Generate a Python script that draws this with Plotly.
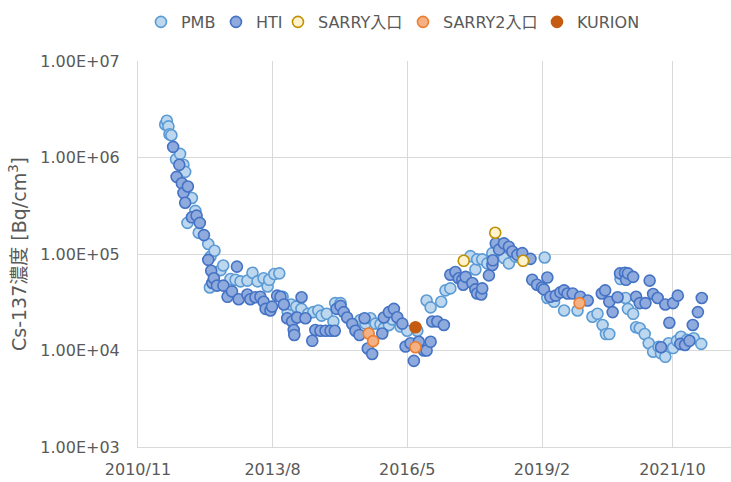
import plotly.graph_objects as go

# PMB outlet samples
pmb_dates = [
    "2011-05-23", "2011-06-04", "2011-06-16", "2011-06-24", "2011-07-08", "2011-08-12",
    "2011-09-11", "2011-10-06", "2011-10-19", "2011-11-05", "2011-12-08", "2012-01-03",
    "2012-01-28", "2012-04-08", "2012-04-20", "2012-04-25", "2012-05-25", "2012-07-09",
    "2012-07-29", "2012-09-21", "2012-10-29", "2012-12-05", "2013-01-25", "2013-03-04",
    "2013-04-11", "2013-05-26", "2013-06-25", "2013-07-07", "2013-08-14", "2013-09-20",
    "2013-10-15", "2013-11-22", "2013-12-18", "2014-01-25", "2014-03-04", "2014-04-23",
    "2014-06-01", "2014-07-08", "2014-08-02", "2014-09-09", "2014-10-29", "2014-11-11",
    "2014-12-21", "2015-05-18", "2015-06-25", "2015-08-01", "2015-09-08", "2015-10-15",
    "2015-11-09", "2015-12-17", "2016-01-10", "2016-03-12", "2016-05-01", "2016-07-16",
    "2016-09-23", "2016-10-23", "2017-01-10", "2017-02-11", "2017-03-19", "2017-08-16",
    "2017-09-22", "2017-10-05", "2017-11-12", "2017-12-20", "2018-01-27", "2018-04-23",
    "2018-05-30", "2018-07-19", "2019-02-21", "2019-03-13", "2019-05-02", "2019-07-16",
    "2019-10-24", "2020-02-12", "2020-03-21", "2020-04-28", "2020-05-23", "2020-06-17",
    "2020-09-09", "2020-10-16", "2020-11-03", "2020-12-12", "2021-01-03", "2021-01-30",
    "2021-03-08", "2021-04-07", "2021-05-10", "2021-06-20", "2021-07-08", "2021-08-09",
    "2021-09-03", "2021-10-06", "2021-11-04", "2021-12-04", "2022-01-18", "2022-03-09",
    "2022-05-04",
]
pmb_values = [
    2.2e6, 2.4e6, 2.1e6, 1.74e6, 1.7e6, 9.6e5,
    1.09e6, 8.4e5, 7.1e5, 2.1e5, 3.8e5, 2.8e5,
    1.66e5, 1.27e5, 4.5e4, 9.4e4, 1.08e5, 6.8e4,
    7.6e4, 5.5e4, 5.4e4, 5.2e4, 5.3e4, 6.4e4,
    5.2e4, 5.6e4, 4.6e4, 5.4e4, 6.2e4, 6.3e4,
    3.6e4, 2.5e4, 3.0e4, 2.85e4, 2.7e4, 2.4e4,
    2.5e4, 2.6e4, 2.3e4, 2.4e4, 2.0e4, 3.1e4,
    3.1e4, 2.07e4, 1.9e4, 2.16e4, 1.9e4, 1.87e4,
    1.7e4, 1.84e4, 2.1e4, 1.77e4, 1.6e4, 1.6e4,
    3.3e4, 2.8e4, 3.2e4, 4.2e4, 4.4e4, 9.5e4,
    6.9e4, 8.8e4, 8.8e4, 8.0e4, 1.02e5, 9.1e4,
    8.0e4, 9.4e4, 9.2e4, 3.5e4, 3.2e4, 2.6e4,
    2.6e4, 2.24e4, 2.4e4, 1.84e4, 1.48e4, 1.48e4,
    5.5e4, 3.5e4, 2.7e4, 2.4e4, 1.74e4, 1.7e4,
    1.48e4, 1.19e4, 9.7e3, 1.09e4, 9.35e3, 8.6e3,
    1.19e4, 1.06e4, 1.26e4, 1.39e4, 1.29e4, 1.34e4,
    1.17e4,
]

# HTI building samples
hti_dates = [
    "2011-07-21", "2011-08-16", "2011-09-05", "2011-09-24", "2011-10-06", "2011-10-19",
    "2011-11-08", "2011-12-08", "2012-01-12", "2012-02-05", "2012-03-07", "2012-04-08",
    "2012-04-30", "2012-05-08", "2012-05-20", "2012-06-12", "2012-07-30", "2012-08-30",
    "2012-10-02", "2012-11-08", "2012-11-21", "2013-01-25", "2013-02-16", "2013-03-26",
    "2013-05-02", "2013-05-26", "2013-06-10", "2013-07-16", "2013-07-28", "2013-09-04",
    "2013-09-29", "2013-10-24", "2013-11-18", "2013-12-25", "2014-01-06", "2014-01-10",
    "2014-01-31", "2014-03-05", "2014-04-03", "2014-05-24", "2014-06-16", "2014-07-24",
    "2014-08-31", "2014-10-07", "2014-11-08", "2014-11-21", "2014-12-21", "2015-01-14",
    "2015-02-08", "2015-03-18", "2015-04-11", "2015-05-11", "2015-06-18", "2015-07-12",
    "2015-08-14", "2015-10-28", "2015-11-09", "2015-12-17", "2016-01-23", "2016-02-17",
    "2016-03-26", "2016-04-19", "2016-05-26", "2016-06-20", "2016-07-27", "2016-09-03",
    "2016-09-23", "2016-10-23", "2016-11-04", "2016-12-12", "2017-01-30", "2017-03-19",
    "2017-04-26", "2017-05-21", "2017-06-16", "2017-06-23", "2017-07-11", "2017-08-30",
    "2017-09-22", "2017-10-05", "2017-11-05", "2017-11-12", "2018-01-01", "2018-01-27",
    "2018-01-30", "2018-02-21", "2018-03-18", "2018-04-23", "2018-05-30", "2018-06-25",
    "2018-08-01", "2018-09-07", "2018-11-07", "2018-11-20", "2018-12-26", "2019-02-01",
    "2019-02-15", "2019-03-13", "2019-04-04", "2019-05-15", "2019-06-18", "2019-07-16",
    "2019-08-11", "2019-09-18", "2019-11-13", "2020-01-08", "2020-04-22", "2020-05-17",
    "2020-06-17", "2020-07-12", "2020-08-18", "2020-09-05", "2020-10-12", "2020-10-20",
    "2020-11-03", "2020-12-12", "2021-01-03", "2021-01-30", "2021-03-14", "2021-04-14",
    "2021-05-10", "2021-06-13", "2021-07-08", "2021-08-09", "2021-09-08", "2021-10-06",
    "2021-11-10", "2021-11-29", "2022-01-03", "2022-02-05", "2022-03-02", "2022-04-09",
    "2022-05-08",
]
hti_values = [
    1.29e6, 6.3e5, 8.4e5, 5.4e5, 4.3e5, 3.4e5,
    5.0e5, 2.4e5, 2.5e5, 2.1e5, 1.57e5, 8.7e4,
    6.7e4, 5.0e4, 5.6e4, 4.7e4, 4.7e4, 3.6e4,
    4.1e4, 7.4e4, 3.4e4, 3.8e4, 3.4e4, 3.56e4,
    3.6e4, 3.2e4, 2.7e4, 2.6e4, 2.85e4, 3.7e4,
    3.6e4, 3.0e4, 2.16e4, 2.0e4, 1.63e4, 1.45e4,
    2.2e4, 3.56e4, 2.16e4, 1.26e4, 1.63e4, 1.6e4,
    1.6e4, 1.6e4, 1.6e4, 2.7e4, 2.9e4, 2.5e4,
    2.2e4, 1.88e4, 1.6e4, 1.45e4, 2.16e4, 1.05e4,
    9.2e3, 1.5e4, 2.2e4, 2.5e4, 2.7e4, 2.21e4,
    1.9e4, 1.1e4, 1.19e4, 7.8e3, 1.23e4, 1.0e4,
    1.0e4, 1.23e4, 2.0e4, 2.0e4, 1.84e4, 6.1e4,
    6.5e4, 5.6e4, 5.4e4, 4.8e4, 5.8e4, 5.0e4,
    4.3e4, 3.9e4, 3.8e4, 4.4e4, 6.0e4, 7.7e4,
    8.6e4, 1.29e5, 1.11e5, 1.29e5, 1.19e5, 1.06e5,
    9.8e4, 1.02e5, 8.9e4, 5.4e4, 4.8e4, 4.5e4,
    4.3e4, 5.7e4, 3.6e4, 3.7e4, 4.0e4, 4.2e4,
    3.9e4, 3.9e4, 3.6e4, 3.3e4, 3.9e4, 4.2e4,
    3.2e4, 2.5e4, 3.56e4, 6.3e4, 6.4e4, 5.4e4,
    6.3e4, 5.8e4, 3.6e4, 3.1e4, 3.1e4, 5.3e4,
    3.85e4, 3.5e4, 1.08e4, 3.0e4, 1.94e4, 3.1e4,
    3.7e4, 1.17e4, 1.14e4, 1.26e4, 1.84e4, 2.5e4,
    3.5e4,
]

# SARRY inlet
sarry_dates = ["2017-06-27", "2018-02-17", "2018-09-13"]
sarry_values = [8.5e4, 1.66e5, 8.5e4]

# SARRY2 inlet
sarry2_dates = ["2015-07-19", "2015-08-21", "2016-07-02", "2019-11-08"]
sarry2_values = [1.5e4, 1.25e4, 1.08e4, 3.1e4]

# KURION
kurion_dates = ["2016-07-02"]
kurion_values = [1.74e4]

x_tick_vals = ["2010-11-01", "2013-08-01", "2016-05-01", "2019-02-01", "2021-10-01"]
x_tick_text = ["2010/11", "2013/8", "2016/5", "2019/2", "2021/10"]
y_tick_vals = [1e3, 1e4, 1e5, 1e6, 1e7]
y_tick_text = ["1.00E+03", "1.00E+04", "1.00E+05", "1.00E+06", "1.00E+07"]

FONT = "DejaVu Sans, Noto Sans CJK JP, sans-serif"
TEXT = "#595959"
GRID = "#D9D9D9"


def series(name, xs, ys, fill, edge, entry_w):
    return go.Scatter(
        x=xs, y=ys, name=name, mode="markers",
        marker=dict(symbol="circle", size=11, color=fill,
                    line=dict(color=edge, width=1.6)),
        legendwidth=entry_w,
    )


fig = go.Figure()
fig.add_trace(series("PMB", pmb_dates, pmb_values, "#BDD7EE", "#5B9BD5", 30))
fig.add_trace(series("HTI", hti_dates, hti_values, "#8FAADC", "#4472C4", 17))
fig.add_trace(series("SARRY入口", sarry_dates, sarry_values, "#FFF2CC", "#BF9000", 80))
fig.add_trace(series("SARRY2入口", sarry2_dates, sarry2_values, "#F4B183", "#ED7D31", 89))
fig.add_trace(series("KURION", kurion_dates, kurion_values, "#C55A11", "#C55A11", 70))

fig.update_layout(
    width=731, height=482,
    margin=dict(l=138, r=0, t=61, b=35),
    paper_bgcolor="white", plot_bgcolor="white",
    font=dict(family=FONT, size=16, color=TEXT),
    showlegend=True,
    legend=dict(
        orientation="h", x=0.005, xanchor="left", y=1.101, yanchor="middle",
        font=dict(size=16, color=TEXT), itemwidth=30, tracegroupgap=0,
        bgcolor="rgba(0,0,0,0)",
    ),
)

fig.update_xaxes(
    type="date", range=["2010-11-01", "2022-12-12"],
    tickvals=x_tick_vals, ticktext=x_tick_text,
    showgrid=True, gridcolor=GRID, gridwidth=1,
    showline=True, linecolor=GRID, linewidth=1,
    zeroline=False, ticks="", ticklabelstandoff=8,
    tickfont=dict(size=16, color=TEXT),
)
fig.update_yaxes(
    type="log", range=[3, 7],
    tickvals=y_tick_vals, ticktext=y_tick_text,
    showgrid=True, gridcolor=GRID, gridwidth=1,
    showline=True, linecolor=GRID, linewidth=1,
    zeroline=False, ticks="", ticklabelstandoff=14,
    tickfont=dict(size=16, color=TEXT),
    title=dict(text="Cs-137濃度 [Bq/cm<sup>3</sup>]", font=dict(size=19, color=TEXT),
               standoff=8),
)

fig.write_html("out.html")
